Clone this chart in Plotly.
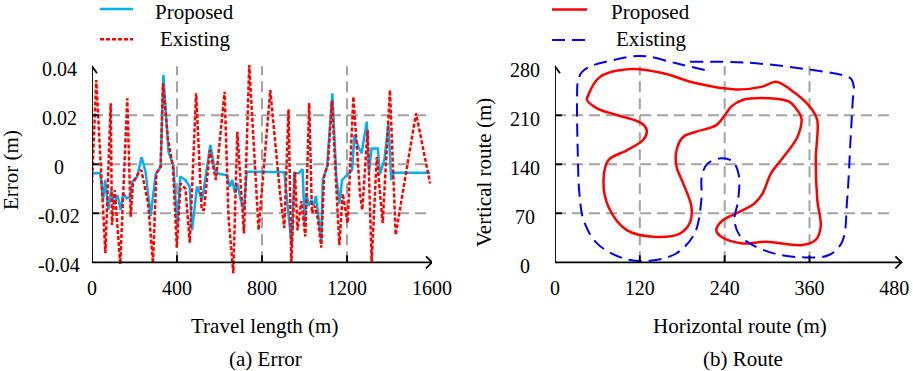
import plotly.graph_objects as go

# ---------------- (a) Error data ----------------
travel_proposed = [0, 39, 52, 62, 77, 90, 105, 120, 135, 147, 163, 179, 190, 213, 233, 252, 276, 300,
                   323, 336, 360, 383, 401, 415, 439, 459, 471, 494, 518, 557, 578, 600, 634, 649,
                   660, 673, 684, 700, 715, 728, 905, 940, 952, 972, 991, 1001, 1009, 1020, 1032,
                   1043, 1054, 1079, 1086, 1106, 1131, 1150, 1164, 1177, 1208, 1224, 1235, 1253,
                   1269, 1293, 1304, 1316, 1345, 1355, 1376, 1395, 1408, 1421, 1591]
error_proposed = [-0.0037, -0.0037, -0.0146, -0.0064, -0.0186, -0.0105, -0.0165, -0.0125, -0.0186,
                  -0.0118, -0.0139, -0.0132, -0.0071, -0.0050, 0.0029, -0.0030, -0.0210, -0.0040,
                  -0.0010, 0.0364, 0.0050, -0.0005, -0.0254, -0.0050, -0.0064, -0.0090, -0.0270,
                  -0.0090, -0.0146, 0.0079, -0.0023, -0.0040, -0.0044, -0.0091, -0.0064, -0.0118,
                  -0.0078, -0.0146, -0.0186, -0.0030, -0.0032, -0.0336, -0.0037, -0.0037, -0.0020,
                  -0.0254, -0.0118, -0.0170, -0.0146, -0.0170, -0.0130, -0.0310, -0.0064, -0.0010,
                  0.0290, -0.0050, -0.0160, -0.0064, -0.0037, -0.0023, 0.0120, 0.0072, 0.0045,
                  0.0174, -0.0030, 0.0065, 0.0065, -0.0040, 0.0018, 0.0165, -0.0064, -0.0034,
                  -0.0034]

travel_existing = [0, 20, 63, 88, 94, 107, 133, 166, 182, 193, 217, 232, 264, 287, 303, 323, 334,
                   358, 381, 399, 417, 440, 460, 490, 516, 527, 555, 583, 624, 642, 665, 684, 715,
                   740, 784, 839, 885, 905, 925, 938, 955, 967, 985, 1004, 1022, 1035, 1050, 1062,
                   1079, 1092, 1110, 1129, 1150, 1164, 1180, 1203, 1230, 1261, 1272, 1297, 1316,
                   1340, 1368, 1402, 1429, 1525, 1591]
error_existing = [-0.0078, 0.0344, -0.0363, 0.0249, -0.0248, -0.0105, -0.0407, 0.0269, -0.0214,
                  -0.0078, -0.0037, -0.0023, -0.0159, -0.0404, -0.0037, -0.0010, 0.0330, 0.0100,
                  -0.0010, -0.0340, -0.0078, -0.0100, -0.0320, 0.0290, -0.0186, -0.0186, 0.0058,
                  -0.0064, 0.0296, -0.0210, -0.0445, 0.0133, -0.0282, 0.0405, -0.0268, 0.0303,
                  -0.0120, -0.0260, 0.0225, -0.0400, -0.0030, -0.0270, -0.0150, -0.0295, 0.0250,
                  -0.0200, -0.0170, -0.0220, -0.0340, -0.0050, 0.0000, 0.0260, -0.0100, -0.0330,
                  -0.0120, -0.0240, 0.0276, -0.0118, -0.0186, 0.0140, -0.0397, 0.0030, -0.0240,
                  0.0303, -0.0288, 0.0208, -0.0078]

# ---------------- (b) Route data ----------------
route_proposed_x = [46.1, 64.0, 108.6, 153.0, 200.0, 256.3, 293.7, 312.5, 340.6, 364.0, 371.0, 368.8,
                    371.0, 375.8, 368.8, 349.9, 298.5, 265.5, 235.2, 228.1, 237.4, 260.9, 282.0,
                    293.7, 305.5, 321.8, 342.9, 348.5, 340.6, 331.2, 303.1, 265.5, 249.2, 242.2,
                    228.1, 200.0, 181.2, 171.9, 171.9, 181.2, 193.0, 190.6, 176.5, 139.0, 101.5,
                    75.7, 68.6, 75.7, 101.5, 124.9, 129.7, 122.6, 87.5, 59.4, 45.3, 46.1]
route_proposed_y = [236.6, 265, 276, 270, 255.7, 247, 251, 258, 241, 217.6, 203, 146, 89, 51, 32,
                    24.7, 29.4, 27, 36.6, 46, 60, 72, 84, 98.6, 127, 148.6, 179, 206, 220, 229.4,
                    234.3, 231.9, 222.4, 213, 196, 186.6, 179, 160, 137, 113, 79, 56, 41, 36.6, 46,
                    79, 117.6, 146, 160, 175, 189, 198.6, 210.4, 220, 232, 236.6]

route_existing_x = [211.7, 181.2, 162.4, 134.3, 115.6, 87.5, 49.9, 38.3, 32.6, 31.2, 32.1, 34.5,
                    40.5, 59.4, 96.8, 134.3, 171.9, 197.6, 207.0, 207.9, 216.3, 235.2, 251.5, 259.9,
                    259.1, 253.9, 260.9, 279.6, 312.5, 349.9, 387.5, 406.2, 413.2, 418.0, 421.2,
                    422.6, 418.0, 406.2, 357.0, 275.0, 190.6]
route_existing_y = [274.7, 281.9, 286.6, 293.7, 294.7, 290, 280, 272, 260, 231.9, 160, 98.6, 60,
                    27, 5.7, 2.3, 12.9, 41.4, 89, 124.7, 141.4, 148.6, 143.9, 124.7, 89, 60, 39,
                    24.7, 11.9, 7.1, 10.4, 29.4, 89, 174.7, 231.9, 250.9, 262.9, 267.6, 275.7, 285,
                    286.6]

# ---------------- ticks ----------------
travel_ticks = [0, 400, 800, 1200, 1600]
err_ticks = [-0.04, -0.02, 0, 0.02, 0.04]
err_tick_text = ["-0.04", "-0.02", "0", "0.02", "0.04"]
hor_ticks = [0, 120, 240, 360, 480]
ver_ticks = [0, 70, 140, 210, 280]

# ---------------- layout geometry ----------------
W, H = 913, 371
FONT = "Liberation Serif, Times New Roman, Times, DejaVu Serif, serif"
TICKFONT = dict(family=FONT, size=20, color="black")
TITLEFONT = dict(family=FONT, size=21, color="black")
GRID = dict(color="#A3A3A3", width=2, dash="11px,6px")
AXLINE = dict(color="black", width=1.8)


def fx(px):
    return px / W


def fy(py):
    return 1 - py / H


# left panel: x 0..1600 -> px 92..432 ; y -0.04..0.04 -> py 262.3..66.3
L_top, L_bot = 56, 284
l_ylo = -0.04 - (L_bot - 262.3) * 0.08 / 196
l_yhi = 0.04 + (66.3 - L_top) * 0.08 / 196
# right panel: x 0 at px 555, 0.707 px/unit ; y 0 at py 262.3, 0.7 px/unit
R_top, R_bot = 46, 284
R_x0, R_x1 = 555, 905
r_xhi = (R_x1 - R_x0) / 0.707
r_ylo = -(R_bot - 262.3) / 0.7
r_yhi = (262.3 - R_top) / 0.7
L_XEND, L_YEND = 1600, 0.04
R_XEND, R_YEND = 490, 280

fig = go.Figure()
fig.add_trace(go.Scatter(x=travel_proposed, y=error_proposed, mode="lines", name="Proposed",
                         line=dict(color="#00B0F0", width=2.5), xaxis="x", yaxis="y"))
fig.add_trace(go.Scatter(x=travel_existing, y=error_existing, mode="lines", name="Existing",
                         line=dict(color="#FF0000", width=2.5, dash="4px,2px"), xaxis="x", yaxis="y"))
fig.add_trace(go.Scatter(x=route_proposed_x, y=route_proposed_y, mode="lines", name="Proposed",
                         line=dict(color="#FF0000", width=2.5, shape="spline", smoothing=1),
                         xaxis="x2", yaxis="y2"))
fig.add_trace(go.Scatter(x=route_existing_x, y=route_existing_y, mode="lines", name="Existing",
                         line=dict(color="#0000FF", width=2, dash="13px,7px", shape="spline",
                                   smoothing=1), xaxis="x2", yaxis="y2"))

shapes = []


def line_shape(xref, yref, x0, y0, x1, y1, style, layer="below"):
    shapes.append(dict(type="line", xref=xref, yref=yref, x0=x0, y0=y0, x1=x1, y1=y1,
                       layer=layer, line=style))


# grids
for v in travel_ticks[1:-1]:
    line_shape("x", "y", v, err_ticks[0], v, err_ticks[-1], GRID)
for v in err_ticks[1:-1]:
    line_shape("x", "y", travel_ticks[0], v, travel_ticks[-1], v, GRID)
for v in hor_ticks[1:-1]:
    line_shape("x2", "y2", v, ver_ticks[0], v, ver_ticks[-1], GRID)
for v in ver_ticks[1:-1]:
    line_shape("x2", "y2", hor_ticks[0], v, hor_ticks[-1], v, GRID)

# axis lines
line_shape("x", "y", 0, -0.04, L_XEND, -0.04, AXLINE, "above")
line_shape("x", "y", 0, -0.04, 0, L_YEND, AXLINE, "above")
line_shape("x2", "y2", 0, 0, R_XEND, 0, AXLINE, "above")
line_shape("x2", "y2", 0, 0, 0, R_YEND, AXLINE, "above")


def chevron(xref, yref, xa, ya, path):
    shapes.append(dict(type="path", xref=xref, yref=yref, xsizemode="pixel", ysizemode="pixel",
                       xanchor=xa, yanchor=ya, path=path, line=AXLINE, layer="above"))


chevron("x", "y", L_XEND, -0.04, "M-6,6 L0,0 L-6,-6")
chevron("x", "y", 0, L_YEND, "M-5,-7 L0,0 L5,-7")
chevron("x2", "y2", R_XEND, 0, "M-6,6 L0,0 L-6,-6")
chevron("x2", "y2", 0, R_YEND, "M-5,-7 L0,0 L5,-7")


# inside ticks
def xtick(xref, yref, v, ya):
    shapes.append(dict(type="line", xref=xref, yref=yref, x0=v, x1=v, ysizemode="pixel",
                       yanchor=ya, y0=0, y1=7, line=AXLINE, layer="above"))


def ytick(xref, yref, v, xa):
    shapes.append(dict(type="line", xref=xref, yref=yref, y0=v, y1=v, xsizemode="pixel",
                       xanchor=xa, x0=0, x1=7, line=AXLINE, layer="above"))


for v in travel_ticks[1:-1]:
    xtick("x", "y", v, -0.04)
for v in err_ticks[1:-1]:
    ytick("x", "y", v, 0)
for v in hor_ticks[1:-1]:
    xtick("x2", "y2", v, 0)
for v in ver_ticks[1:-1]:
    ytick("x2", "y2", v, 0)

# legend samples (paper coords)
shapes.append(dict(type="line", xref="paper", yref="paper", x0=fx(100), x1=fx(133), y0=fy(9),
                   y1=fy(9), line=dict(color="#00B0F0", width=2.5)))
shapes.append(dict(type="line", xref="paper", yref="paper", x0=fx(100), x1=fx(133), y0=fy(39.3),
                   y1=fy(39.3), line=dict(color="#FF0000", width=2.5, dash="4px,2px")))
shapes.append(dict(type="line", xref="paper", yref="paper", x0=fx(552), x1=fx(587), y0=fy(9.5),
                   y1=fy(9.5), line=dict(color="#FF0000", width=2.5)))
shapes.append(dict(type="line", xref="paper", yref="paper", x0=fx(552), x1=fx(587), y0=fy(40),
                   y1=fy(40), line=dict(color="#0000FF", width=2, dash="13px,7px")))

annotations = []


def text(x, y, s, font, xref="paper", yref="paper", angle=0, yshift=0):
    annotations.append(dict(x=x, y=y, xref=xref, yref=yref, text=s, showarrow=False,
                            xanchor="center", yanchor="middle", font=font, textangle=angle,
                            yshift=yshift))


for v, t in zip(err_ticks, err_tick_text):
    text(fx(59), v, t, TICKFONT, yref="y", yshift=-3)
for v in ver_ticks:
    text(fx(525), v, str(v), TICKFONT, yref="y2", yshift=-4)

text(fx(264.5), fy(326), "Travel length (m)", TITLEFONT)
text(fx(265), fy(359), "(a) Error", TITLEFONT)
text(fx(740), fy(326), "Horizontal route (m)", TITLEFONT)
text(fx(742.5), fy(359), "(b) Route", TITLEFONT)
text(fx(11), fy(170), "Error (m)", TITLEFONT, angle=-90)
text(fx(484), fy(173), "Vertical route (m)", TITLEFONT, angle=-90)
text(fx(194.5), fy(12.5), "Proposed", TITLEFONT)
text(fx(195.3), fy(39), "Existing", TITLEFONT)
text(fx(650.8), fy(12.5), "Proposed", TITLEFONT)
text(fx(651), fy(39), "Existing", TITLEFONT)

axis_common = dict(showgrid=False, zeroline=False, showline=False, ticks="", automargin=False)
fig.update_layout(
    width=W, height=H, autosize=False, margin=dict(l=0, r=0, t=0, b=0, pad=0, autoexpand=False),
    paper_bgcolor="white", plot_bgcolor="white", showlegend=False,
    xaxis=dict(domain=[fx(92), fx(432)], range=[0, 1600], anchor="free", position=fy(262.3),
               tickmode="array", tickvals=travel_ticks, ticktext=[str(v) for v in travel_ticks],
               tickfont=TICKFONT, ticklabelstandoff=12, **axis_common),
    yaxis=dict(domain=[fy(L_bot), fy(L_top)], range=[l_ylo, l_yhi], anchor="x",
               showticklabels=False, **axis_common),
    xaxis2=dict(domain=[fx(R_x0), fx(R_x1)], range=[0, r_xhi], anchor="free", position=fy(262.3),
                tickmode="array", tickvals=hor_ticks, ticktext=[str(v) for v in hor_ticks],
                tickfont=TICKFONT, ticklabelstandoff=12, **axis_common),
    yaxis2=dict(domain=[fy(R_bot), fy(R_top)], range=[r_ylo, r_yhi], anchor="x2",
                showticklabels=False, **axis_common),
    shapes=shapes, annotations=annotations,
)

fig.write_html(
    "out.html",
    config={"displayModeBar": False, "responsive": False},
    post_script=(
        "document.documentElement.style.margin='0';document.documentElement.style.padding='0';"
        "document.body.style.margin='0';document.body.style.padding='0';"
        "document.body.style.overflow='hidden';"
    ),
)
